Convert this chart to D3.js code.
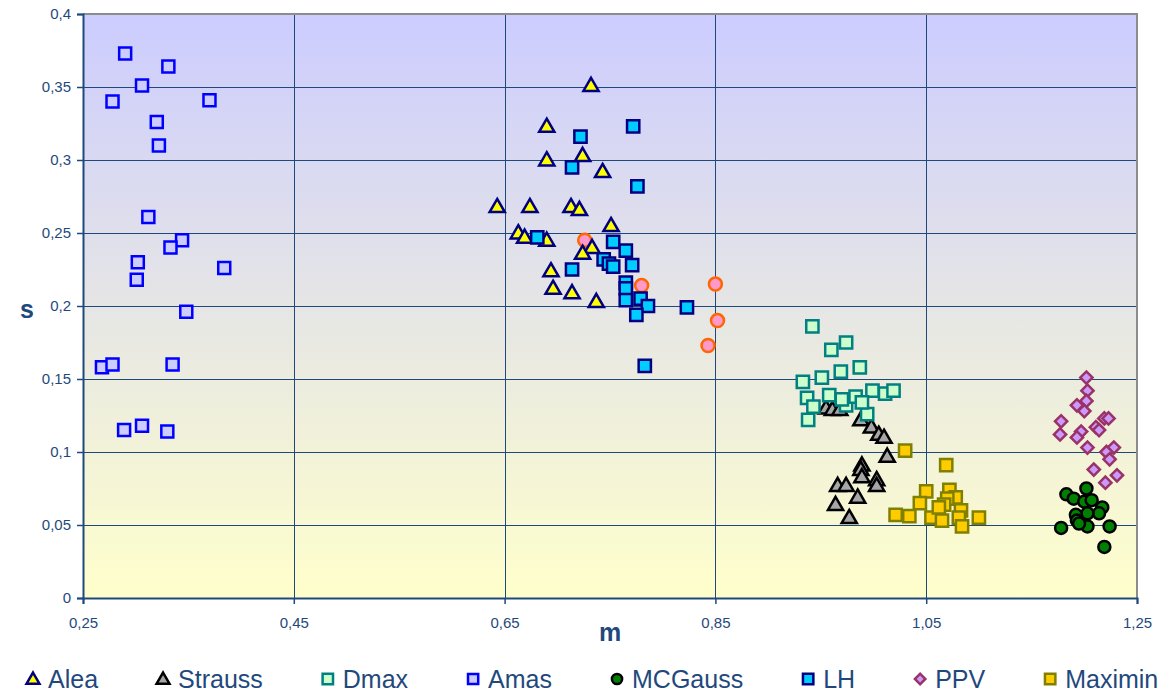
<!DOCTYPE html>
<html>
<head>
<meta charset="utf-8">
<script src="https://cdn.jsdelivr.net/npm/d3@7"></script>
<style>
  body { margin: 0; background: #fff; }
  svg { display: block; font-family: "Liberation Sans", Arial, sans-serif; }
</style>
</head>
<body>
<svg id="chart" width="1173" height="695"></svg>
<script>
// Tick values
const xTicks = [0.25, 0.45, 0.65, 0.85, 1.05, 1.25]
const yTicks = [0, 0.05, 0.1, 0.15, 0.2, 0.25, 0.3, 0.35, 0.4]

// Series values, [m, s]
const alea = [[0.732,0.351],[0.690,0.323],[0.690,0.300],[0.724,0.303],[0.743,0.292],[0.643,0.268],
    [0.674,0.268],[0.713,0.268],[0.721,0.266],[0.751,0.255],[0.663,0.250],[0.669,0.247],[0.690,0.245],
    [0.733,0.240],[0.724,0.236],[0.694,0.224],[0.696,0.212],[0.714,0.209],[0.737,0.203]]
const strauss = [[0.955,0.130],[0.961,0.129],[0.968,0.129],[0.988,0.122],[0.998,0.117],[1.005,0.112],
    [1.010,0.110],[1.013,0.097],[0.989,0.091],[0.988,0.088],[0.989,0.083],[1.003,0.081],[1.003,0.077],
    [0.966,0.077],[0.974,0.077],[0.985,0.069],[0.964,0.064],[0.977,0.055]]
const dmax = [[0.942,0.186],[0.960,0.170],[0.974,0.175],[0.969,0.155],[0.987,0.158],[0.933,0.148],
    [0.951,0.151],[0.937,0.137],[0.958,0.139],[0.943,0.131],[0.938,0.122],[0.974,0.132],[0.983,0.138],
    [0.999,0.142],[1.011,0.140],[1.019,0.142],[0.994,0.126],[0.970,0.136],[0.989,0.134]]
const amas = [[0.290,0.373],[0.331,0.364],[0.278,0.340],[0.306,0.351],[0.320,0.326],[0.322,0.310],
    [0.370,0.341],[0.312,0.261],[0.344,0.245],[0.333,0.240],[0.302,0.230],[0.301,0.218],[0.384,0.226],
    [0.348,0.196],[0.268,0.158],[0.278,0.160],[0.335,0.160],[0.289,0.115],[0.306,0.118],[0.330,0.114]]
const mcgauss = [[1.183,0.071],[1.190,0.068],[1.202,0.075],[1.200,0.066],[1.207,0.067],[1.217,0.062],
    [1.214,0.058],[1.203,0.058],[1.192,0.057],[1.193,0.053],[1.203,0.049],[1.178,0.048],[1.224,0.049],
    [1.219,0.035],[1.195,0.051]]
const lh = [[0.722,0.316],[0.772,0.323],[0.714,0.295],[0.776,0.282],[0.681,0.247],[0.714,0.225],
    [0.753,0.244],[0.765,0.238],[0.744,0.232],[0.749,0.229],[0.753,0.227],[0.771,0.228],[0.765,0.216],
    [0.765,0.212],[0.765,0.204],[0.779,0.205],[0.786,0.200],[0.775,0.194],[0.823,0.199],[0.783,0.159]]
const ppv = [[1.202,0.151],[1.203,0.142],[1.202,0.135],[1.193,0.132],[1.200,0.128],[1.178,0.121],
    [1.177,0.112],[1.197,0.114],[1.193,0.110],[1.203,0.103],[1.211,0.117],[1.219,0.123],[1.223,0.123],
    [1.214,0.115],[1.228,0.103],[1.221,0.100],[1.224,0.095],[1.209,0.088],[1.231,0.084],[1.220,0.079]]
const maximin = [[1.030,0.101],[1.069,0.091],[1.050,0.073],[1.072,0.074],[1.078,0.069],[1.070,0.068],
    [1.044,0.065],[1.067,0.064],[1.083,0.060],[1.021,0.057],[1.034,0.056],[1.055,0.055],[1.065,0.053],
    [1.081,0.055],[1.100,0.055],[1.084,0.049],[1.062,0.062]]
// extra series without a legend entry
const other = [[0.726,0.245],[0.780,0.214],[0.850,0.215],[0.852,0.190],[0.843,0.173]]

const series = [
    {name: null, data: other, shape: "circle", fill: "#ff99cc", stroke: "#ff6600", size: 6.5},
    {name: "Alea", data: alea, shape: "triangle", fill: "#ffff00", stroke: "#000080", size: 100},
    {name: "Strauss", data: strauss, shape: "triangle", fill: "#a6a6a6", stroke: "#000000", size: 100},
    {name: "Dmax", data: dmax, shape: "square", fill: "#ccffcc", stroke: "#008080", size: 150},
    {name: "Amas", data: amas, shape: "square", fill: "#ccccff", stroke: "#0000ff", size: 144},
    {name: "MCGauss", data: mcgauss, shape: "circle", fill: "#008000", stroke: "#000000", size: 6},
    {name: "LH", data: lh, shape: "square", fill: "#00ccff", stroke: "#000080", size: 150},
    {name: "PPV", data: ppv, shape: "diamond", fill: "#cc99ff", stroke: "#993366", size: 75},
    {name: "Maximin", data: maximin, shape: "square", fill: "#ffcc00", stroke: "#808000", size: 150},
]

const svg = d3.select("#chart")
const plotLeft = 83, plotRight = 1137, plotTop = 14, plotBottom = 598
const navy = "#1f497d"

const x = d3.scaleLinear().domain([0.25, 1.25]).range([plotLeft, plotRight])
const y = d3.scaleLinear().domain([0, 0.4]).range([plotBottom, plotTop])
const fmt = d => String(+d.toFixed(2)).replace(".", ",")

// background gradient
const grad = svg.append("defs").append("linearGradient")
    .attr("id", "bg").attr("x1", 0).attr("y1", 0).attr("x2", 0).attr("y2", 1)
grad.append("stop").attr("offset", "0%").attr("stop-color", "#ccccff")
grad.append("stop").attr("offset", "100%").attr("stop-color", "#ffffcc")

svg.append("rect")
    .attr("x", plotLeft).attr("y", plotTop)
    .attr("width", plotRight - plotLeft).attr("height", plotBottom - plotTop)
    .attr("fill", "url(#bg)")

// gridlines
svg.append("g").selectAll("line").data(yTicks.slice(1, -1)).join("line")
    .attr("x1", plotLeft).attr("x2", plotRight)
    .attr("y1", d => Math.round(y(d)) + 0.5).attr("y2", d => Math.round(y(d)) + 0.5)
    .attr("stroke", navy).attr("stroke-width", 1)
svg.append("g").selectAll("line").data(xTicks.slice(1, -1)).join("line")
    .attr("y1", plotTop).attr("y2", plotBottom)
    .attr("x1", d => Math.round(x(d)) + 0.5).attr("x2", d => Math.round(x(d)) + 0.5)
    .attr("stroke", navy).attr("stroke-width", 1)

// top / right border
svg.append("path")
    .attr("d", `M${plotLeft},${plotTop}H${plotRight}V${plotBottom}`)
    .attr("fill", "none").attr("stroke", "#8c8c8c").attr("stroke-width", 2)

// axes
const xAxis = svg.append("g")
    .attr("transform", `translate(0,${plotBottom})`)
    .call(d3.axisBottom(x).tickValues(xTicks).tickFormat(fmt).tickSize(6).tickPadding(13))
const yAxis = svg.append("g")
    .attr("transform", `translate(${plotLeft},0)`)
    .call(d3.axisLeft(y).tickValues(yTicks).tickFormat(fmt).tickSize(6).tickPadding(6))
for (const ax of [xAxis, yAxis]) {
    ax.select(".domain").attr("stroke", navy).attr("stroke-width", 2)
    ax.selectAll(".tick line").attr("stroke", navy).attr("stroke-width", 1.5)
    ax.selectAll(".tick text").attr("fill", navy)
        .style("font-size", "15px").style("font-family", "'Liberation Sans', Arial, sans-serif")
}

// axis titles
svg.append("text").attr("x", 610).attr("y", 641).attr("text-anchor", "middle")
    .attr("fill", navy).style("font-size", "25px").style("font-weight", "bold").text("m")
svg.append("text").attr("x", 27).attr("y", 318).attr("text-anchor", "middle")
    .attr("fill", navy).style("font-size", "25px").style("font-weight", "bold").text("s")

// markers
function drawMarker(sel, s, scale) {
    if (s.shape === "circle") {
        sel.append("circle").attr("r", s.size * scale)
            .attr("fill", s.fill).attr("stroke", s.stroke).attr("stroke-width", 2.5)
    } else {
        const type = s.shape === "triangle" ? d3.symbolTriangle : d3.symbolSquare
        sel.append("path")
            .attr("d", d3.symbol().type(type).size(s.size * scale * scale)())
            .attr("transform", s.shape === "diamond" ? "rotate(45)" : (s.shape === "triangle" ? "translate(0,1)" : null))
            .attr("fill", s.fill).attr("stroke", s.stroke).attr("stroke-width", 2.5)
    }
}

series.forEach(s => {
    svg.append("g").selectAll("g").data(s.data).join("g")
        .attr("transform", d => `translate(${x(d[0])},${y(d[1])})`)
        .each(function() { drawMarker(d3.select(this), s, 1) })
})

// legend
const legend = svg.append("g")
let lx = 33
series.filter(s => s.name).forEach(s => {
    const item = legend.append("g").attr("transform", `translate(${lx},679)`)
    drawMarker(item, s, 0.85)
    const t = item.append("text").attr("x", 15).attr("y", 9)
        .attr("fill", navy).style("font-size", "25px").text(s.name)
    lx += 15 + t.node().getComputedTextLength() + 65
})
</script>
</body>
</html>
